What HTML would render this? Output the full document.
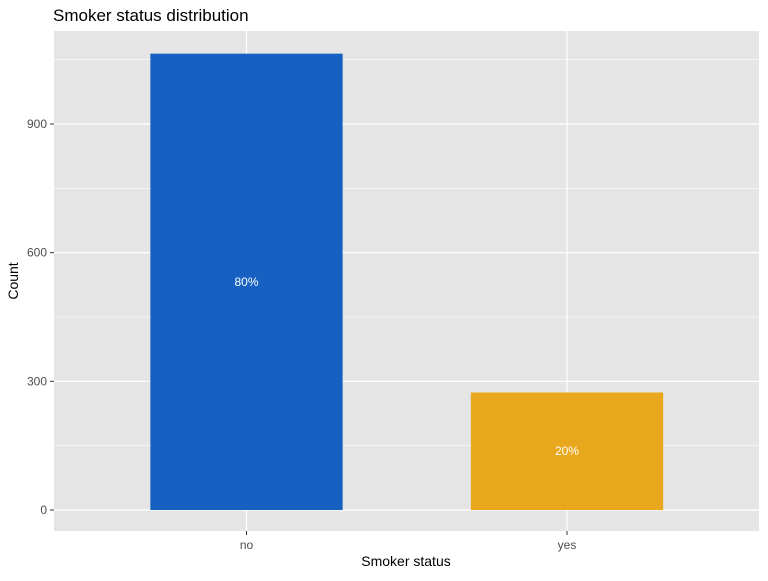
<!DOCTYPE html>
<html><head><meta charset="utf-8"><style>
body{margin:0;background:#fff;font-family:"Liberation Sans",sans-serif;}
svg text{font-family:"Liberation Sans",sans-serif;}
</style></head><body>
<svg id="chart" width="768" height="576">
<text x="53" y="21" font-size="17" fill="#000">Smoker status distribution</text>
<rect x="54" y="31" width="705" height="500" fill="#e5e5e5"/>
<g id="grid"></g><g id="bars"></g><g id="axes"></g>
<text x="406" y="566" font-size="14" text-anchor="middle" fill="#000">Smoker status</text>
<text transform="translate(18,281) rotate(-90)" font-size="14" text-anchor="middle" fill="#000">Count</text>
</svg>
<script>
const categories=["no","yes"];
const counts=[1064,274];
const labels=["80%","20%"];
const yTicks=[0,300,600,900];
const colors=["#1660c2","#e8a71c"];
const NS="http://www.w3.org/2000/svg";
const y0=510, pxPer=128.67/300;
const y=v=>y0-v*pxPer;
const band=320.5, xFirst=246.5;
const x=i=>xFirst+i*band;
function mk(t,a,p){const e=document.createElementNS(NS,t);for(const k in a)e.setAttribute(k,a[k]);p.appendChild(e);return e;}
const grid=document.getElementById('grid'),bars=document.getElementById('bars'),axes=document.getElementById('axes');
for(let i=0;i<yTicks.length;i++){
 const v=yTicks[i];
 if(i<yTicks.length-1){const m=(v+yTicks[i+1])/2;const gm=mk('line',{x1:54,x2:759,y1:y(m),y2:y(m),stroke:'#fff','stroke-width':0.6},grid);
 
 }
 const g=mk('line',{x1:54,x2:759,y1:y(v),y2:y(v),stroke:'#fff','stroke-width':1.2},grid);
 
 
 const tk=mk('line',{x1:50,x2:54,y1:y(v),y2:y(v),stroke:'#333','stroke-width':1},axes);
 
 
 const t=mk('text',{x:47,y:y(v)+4,'font-size':12,'text-anchor':'end',fill:'#4d4d4d'},axes);t.textContent=v;
 
 
}
{const m=(900+1200)/2;const gm=mk('line',{x1:54,x2:759,y1:y(m),y2:y(m),stroke:'#fff','stroke-width':0.6},grid);
 
 }
categories.forEach((c,i)=>{
 const g=mk('line',{x1:x(i),x2:x(i),y1:31,y2:531,stroke:'#fff','stroke-width':1.2},grid);
 
 
 const w=band*0.6;
 const r=mk('rect',{x:x(i)-w/2,y:y(counts[i]),width:w,height:y0-y(counts[i]),fill:colors[i]},bars);
 
 
 const l=mk('text',{x:x(i),y:y(counts[i]/2)+4,'font-size':12,'text-anchor':'middle',fill:'#fff'},bars);l.textContent=labels[i];
 
 
 const tk=mk('line',{x1:x(i),x2:x(i),y1:531,y2:535,stroke:'#333','stroke-width':1},axes);
 
 
 const t=mk('text',{x:x(i),y:549,'font-size':12,'text-anchor':'middle',fill:'#4d4d4d'},axes);t.textContent=c;
 
 
});
</script>
</body></html>
